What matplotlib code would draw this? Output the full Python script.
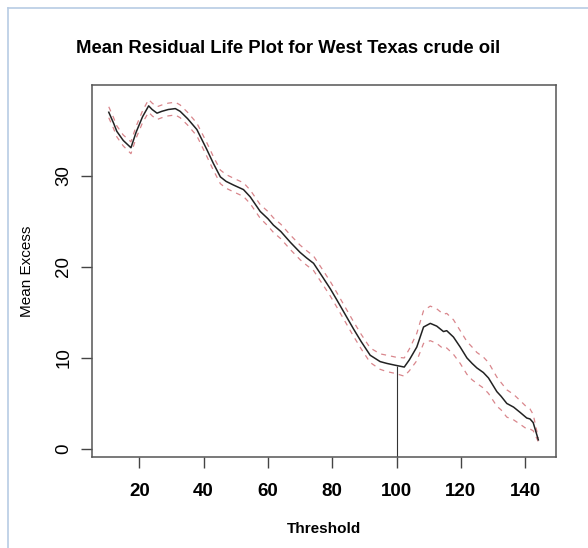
import matplotlib.pyplot as plt
import numpy as np
from matplotlib.lines import Line2D

plt.rcParams['font.family'] = ['Liberation Sans', 'DejaVu Sans']

# mean residual life estimates with 95% band
threshold = [10.5, 12, 13, 15, 17.4, 19, 21, 22.9, 24, 25.5, 27, 29, 31.2, 32.7, 35, 37.9,
             41, 43, 45.2, 47, 49.3, 52.4, 54.5, 57.6, 60, 61.7, 64, 67, 70, 72, 74.2, 77,
             79.4, 81.4, 84, 86.6, 89, 91.8, 94.9, 97, 99.6, 102.4, 104, 106.3, 108.4, 110.5,
             112.5, 114.6, 115.6, 117.7, 119.8, 121.9, 123.5, 125, 127, 128.6, 131.2, 132.5,
             134.3, 136.4, 138.5, 140.5, 141.5, 142.5, 144.1]
mean_excess = [37.0, 35.8, 34.9, 33.9, 33.1, 34.8, 36.5, 37.7, 37.3, 36.9, 37.1, 37.3, 37.4, 37.1, 36.3, 35.1,
               32.9, 31.4, 29.9, 29.4, 29.0, 28.5, 27.7, 26.1, 25.3, 24.6, 23.9, 22.7, 21.6, 21.0, 20.4, 18.9,
               17.6, 16.4, 14.8, 13.2, 11.8, 10.3, 9.6, 9.4, 9.2, 9.0, 9.8, 11.2, 13.4, 13.8,
               13.5, 12.9, 13.0, 12.3, 11.2, 10.0, 9.4, 8.9, 8.4, 7.8, 6.3, 5.8,
               5.0, 4.6, 4.0, 3.4, 3.3, 2.9, 1.0]
upper = [37.6, 36.4, 35.5, 34.5, 33.75, 35.45, 37.15, 38.4, 38.0, 37.6, 37.8, 38.0, 38.1, 37.8, 37.0, 35.8,
         33.65, 32.15, 30.65, 30.15, 29.75, 29.25, 28.45, 26.85, 26.1, 25.4, 24.7, 23.5, 22.4, 21.8, 21.2, 19.7,
         18.4, 17.2, 15.6, 14.0, 12.6, 11.1, 10.45, 10.3, 10.1, 10.0, 11.0, 12.7, 15.2, 15.7,
         15.4, 14.8, 14.9, 14.2, 13.0, 11.8, 11.2, 10.6, 10.1, 9.5, 7.9, 7.3,
         6.5, 6.0, 5.3, 4.6, 4.4, 3.8, 1.2]
lower = [36.4, 35.2, 34.3, 33.3, 32.45, 34.15, 35.85, 37.0, 36.6, 36.2, 36.4, 36.6, 36.7, 36.4, 35.6, 34.4,
         32.15, 30.65, 29.15, 28.65, 28.25, 27.75, 26.95, 25.35, 24.5, 23.8, 23.1, 21.9, 20.8, 20.2, 19.6, 18.1,
         16.8, 15.6, 14.0, 12.4, 11.0, 9.5, 8.75, 8.5, 8.3, 8.0, 8.6, 9.7, 11.6, 11.9,
         11.6, 11.0, 11.1, 10.4, 9.4, 8.2, 7.6, 7.2, 6.7, 6.1, 4.7, 4.3,
         3.5, 3.2, 2.7, 2.2, 2.2, 2.0, 0.8]
chosen_u = 100

fig = plt.figure(figsize=(5.88, 5.48), dpi=100)
ax = fig.add_axes([0.156, 0.1666, 0.7896, 0.6784])

band_color = '#d9868c'
ax.plot(threshold, upper, color=band_color, lw=0.9, dashes=(4, 4))
ax.plot(threshold, lower, color=band_color, lw=0.9, dashes=(4, 4))
ax.plot(threshold, mean_excess, color='#222222', lw=1.1)

ax.set_xlim(5.2, 149.6)
ax.set_ylim(-0.85, 40.0)
ax.vlines(chosen_u, -0.85, np.interp(chosen_u, threshold, mean_excess), color='#333333', lw=0.8)

ax.set_xticks([20, 40, 60, 80, 100, 120, 140])
ax.set_yticks([0, 10, 20, 30])
ax.tick_params(direction='out', length=8, width=1, color='#444444')
ax.tick_params(axis='x', pad=11)
ax.tick_params(axis='y', pad=6)
for lab in ax.get_xticklabels():
    lab.set_fontsize(13.5)
    lab.set_fontweight('bold')
for lab in ax.get_yticklabels():
    lab.set_fontsize(13.5)
    lab.set_rotation(90)
    lab.set_va('center')
for sp in ax.spines.values():
    sp.set_color('#555555')
    sp.set_linewidth(1.1)

ax.set_xlabel('Threshold', fontsize=11, fontweight='bold', labelpad=16)
ax.set_ylabel('Mean Excess', fontsize=11, labelpad=15)

fig.text(0.49, 0.912, 'Mean Residual Life Plot for West Texas crude oil',
         ha='center', va='center', fontsize=13.3, fontweight='bold')

# thin page border along the top and left
fig.add_artist(Line2D([7.5 / 588, 1], [1 - 7.5 / 548] * 2, color='#b8cce4', lw=1.2))
fig.add_artist(Line2D([7.5 / 588] * 2, [0, 1 - 7.5 / 548], color='#b8cce4', lw=1.2))

fig.savefig('out.png', dpi=100)
